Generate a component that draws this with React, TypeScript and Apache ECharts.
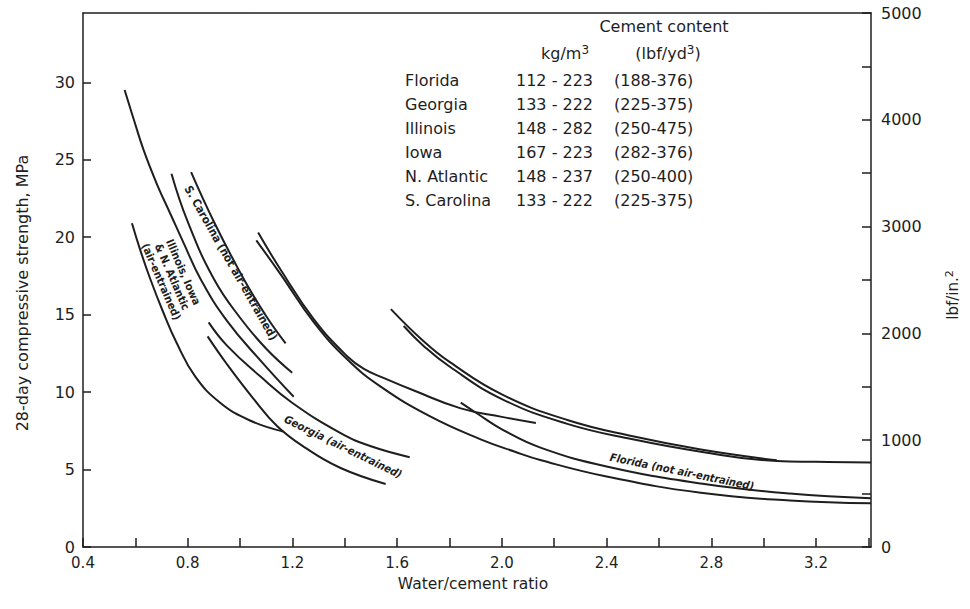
import React, { useEffect, useRef } from 'react';
import * as echarts from 'echarts';

// ---- Curve data: [water/cement ratio, 28-day compressive strength MPa] ----
const illinoisUpper = [[0.559, 29.5], [0.594, 27.6], [0.632, 25.6], [0.683, 23.4], [0.734, 21.5], [0.785, 19.6], [0.849, 17.3], [0.95, 14.6], [1.08, 12.0], [1.205, 9.7]];
const illinoisLower = [[0.587, 20.9], [0.62, 19.1], [0.657, 17.3], [0.703, 15.3], [0.757, 13.2], [0.829, 11.0], [0.925, 9.3], [1.04, 8.15], [1.166, 7.45]];
const carolinaLeft = [[0.738, 24.1], [0.8, 21.0], [0.9, 17.3], [1.0, 14.8], [1.1, 12.8], [1.199, 11.25]];
const carolinaRight = [[0.813, 24.2], [0.9, 21.0], [1.014, 17.3], [1.1, 14.9], [1.174, 13.15]];
const georgiaUpper = [[0.88, 14.5], [0.95, 13.0], [1.078, 11.0], [1.2, 9.3], [1.384, 7.35], [1.5, 6.5], [1.648, 5.8]];
const georgiaLower = [[0.876, 13.6], [0.95, 11.8], [1.05, 9.6], [1.142, 7.8], [1.25, 6.4], [1.384, 5.1], [1.556, 4.07]];
const midUpper = [[1.069, 20.3], [1.155, 17.9], [1.282, 14.7], [1.41, 12.3], [1.473, 11.5], [1.55, 10.9], [1.664, 10.1], [1.843, 8.95], [2.0, 8.4], [2.13, 8.0]];
const midLower = [[1.062, 19.8], [1.155, 17.6], [1.282, 14.5], [1.41, 12.1], [1.537, 10.35], [1.728, 8.41], [1.919, 6.95], [2.05, 6.15], [2.15, 5.6], [2.4, 4.55], [2.76, 3.5], [3.1, 3.0], [3.41, 2.82]];
const floridaCross = [[1.843, 9.32], [1.907, 8.6], [2.0, 7.6], [2.15, 6.4], [2.4, 5.2], [2.76, 4.1], [3.1, 3.45], [3.41, 3.15]];
const floridaUpper1 = [[1.576, 15.36], [1.7, 13.3], [1.8, 11.95], [2.0, 9.85], [2.25, 8.2], [2.5, 7.15], [2.76, 6.3], [3.05, 5.6]];
const floridaUpper2 = [[1.625, 14.27], [1.7, 13.0], [1.8, 11.65], [2.0, 9.55], [2.25, 7.95], [2.5, 6.95], [2.76, 6.15], [3.05, 5.55], [3.2, 5.5], [3.41, 5.45]];

const curves = [illinoisUpper, illinoisLower, carolinaLeft, carolinaRight, georgiaUpper, georgiaLower, midUpper, midLower, floridaCross, floridaUpper1, floridaUpper2];

// ---- Axis tick labels ----
const xTickLabels = ['0.4', '0.8', '1.2', '1.6', '2.0', '2.4', '2.8', '3.2'];
const yTickLabels = ['0', '5', '10', '15', '20', '25', '30'];
const psiTickLabels = ['0', '1000', '2000', '3000', '4000', '5000'];

// ---- Cement content table ----
const regions = ['Florida', 'Georgia', 'Illinois', 'Iowa', 'N. Atlantic', 'S. Carolina'];
const kgRanges = ['112 - 223', '133 - 222', '148 - 282', '167 - 223', '148 - 237', '133 - 222'];
const lbfRanges = ['(188-376)', '(225-375)', '(250-475)', '(282-376)', '(250-400)', '(225-375)'];

const X_MIN = 0.4;
const X_MAX = 3.41;
const PSI_MAX = 5000;
const MPA_MAX = PSI_MAX * 0.00689476;

const INK = '#1e1e1e';
const FONT = '"DejaVu Sans", sans-serif';
const LFONT = '"DejaVu Sans Condensed", "DejaVu Sans", sans-serif';

export default function App() {
  const ref = useRef<HTMLDivElement>(null);

  useEffect(() => {
    document.body.style.margin = '0';
    const chart = echarts.init(ref.current as HTMLDivElement, null, { renderer: 'svg' });

    const tableTexts: any[] = [];
    regions.forEach((r, i) => {
      const y = 80 + i * 24;
      tableTexts.push({ type: 'text', x: 405, y, style: { text: r, font: `16px ${FONT}`, fill: INK, align: 'left', verticalAlign: 'middle' } });
      tableTexts.push({ type: 'text', x: 516, y, style: { text: kgRanges[i], font: `16px ${FONT}`, fill: INK, align: 'left', verticalAlign: 'middle' } });
      tableTexts.push({ type: 'text', x: 614, y, style: { text: lbfRanges[i], font: `16px ${FONT}`, fill: INK, align: 'left', verticalAlign: 'middle' } });
    });

    const rich = (size: number) => ({
      a: { font: `${size}px ${FONT}`, fill: INK, lineHeight: 19 },
      s: { font: `${size - 4}px ${FONT}`, fill: INK, verticalAlign: 'top', lineHeight: 19 },
    });

    chart.setOption({
      animation: false,
      backgroundColor: '#ffffff',
      grid: { left: 83, right: 99, top: 13, bottom: 62 },
      xAxis: [
        {
          type: 'value', min: X_MIN, max: X_MAX, interval: 0.2, position: 'bottom',
          axisLine: { show: true, lineStyle: { color: INK, width: 1.5 } },
          axisTick: { show: true, inside: true, length: 9, lineStyle: { color: INK, width: 1.5 } },
          splitLine: { show: false },
          axisLabel: {
            color: INK, fontSize: 15, fontFamily: FONT, margin: 8, showMaxLabel: false,
            formatter: (v: number) => {
              const k = Math.round(v * 10);
              if (k % 4 !== 0) return '';
              return xTickLabels[(k - 4) / 4] ?? '';
            },
          },
        },
        {
          type: 'value', min: X_MIN, max: X_MAX, position: 'top',
          axisLine: { show: true, onZero: false, lineStyle: { color: INK, width: 1.5 } },
          axisTick: { show: false }, axisLabel: { show: false }, splitLine: { show: false },
        },
      ],
      yAxis: [
        {
          type: 'value', min: 0, max: MPA_MAX, interval: 5, position: 'left',
          axisLine: { show: true, lineStyle: { color: INK, width: 1.5 } },
          axisTick: { show: true, inside: true, length: 8, lineStyle: { color: INK, width: 1.5 } },
          splitLine: { show: false },
          axisLabel: {
            color: INK, fontSize: 16, fontFamily: FONT, margin: 8, showMaxLabel: false,
            formatter: (v: number) => {
              const idx = Math.round(v / 5);
              return Math.abs(v - idx * 5) < 1e-6 ? (yTickLabels[idx] ?? '') : '';
            },
          },
        },
        {
          type: 'value', min: 0, max: PSI_MAX, interval: 500, position: 'right',
          axisLine: { show: true, lineStyle: { color: INK, width: 1.5 } },
          axisTick: { show: true, inside: true, length: 9, lineStyle: { color: INK, width: 1.5 } },
          splitLine: { show: false },
          axisLabel: {
            color: INK, fontSize: 16, fontFamily: FONT, margin: 10,
            formatter: (v: number) => (v % 1000 === 0 ? (psiTickLabels[v / 1000] ?? '') : ''),
          },
        },
      ],
      series: curves.map((c) => ({
        type: 'line',
        xAxisIndex: 0,
        yAxisIndex: 0,
        data: c,
        smooth: 0.45,
        showSymbol: false,
        symbol: 'none',
        lineStyle: { color: INK, width: 2 },
        silent: true,
      })),
      graphic: [
        { type: 'text', x: 664, y: 26, style: { text: 'Cement content', font: `16px ${FONT}`, fill: INK, align: 'center', verticalAlign: 'middle' } },
        { type: 'text', x: 565, y: 53, style: { text: '{a|kg/m}{s|3}', align: 'center', verticalAlign: 'middle', rich: rich(16) } },
        { type: 'text', x: 668, y: 53, style: { text: '{a|(lbf/yd}{s|3}{a|)}', align: 'center', verticalAlign: 'middle', rich: rich(16) } },
        ...tableTexts,
        {
          type: 'text', x: 22, y: 293, rotation: Math.PI / 2,
          style: { text: '28-day compressive strength, MPa', font: `16px ${FONT}`, fill: INK, align: 'center', verticalAlign: 'middle' },
        },
        {
          type: 'text', x: 473, y: 584,
          style: { text: 'Water/cement ratio', font: `15.5px ${FONT}`, fill: INK, align: 'center', verticalAlign: 'middle' },
        },
        {
          type: 'text', x: 953, y: 295, rotation: Math.PI / 2,
          style: { text: '{a|lbf/in.}{s|2}', align: 'center', verticalAlign: 'middle', rich: rich(15) },
        },
        {
          type: 'text', x: 172, y: 277, rotation: -66.5 * Math.PI / 180,
          style: { text: 'Illinois, Iowa\n& N. Atlantic\n(air-entrained)', font: `bold 11px ${LFONT}`, fill: INK, align: 'center', verticalAlign: 'middle', lineHeight: 12 },
        },
        {
          type: 'text', x: 231, y: 263, rotation: -60.3 * Math.PI / 180,
          style: { text: 'S. Carolina (not air-entrained)', font: `bold 11.5px ${LFONT}`, fill: INK, align: 'center', verticalAlign: 'middle' },
        },
        {
          type: 'text', x: 343, y: 447, rotation: -26 * Math.PI / 180,
          style: { text: 'Georgia (air-entrained)', font: `bold italic 11px ${LFONT}`, fill: INK, align: 'center', verticalAlign: 'middle' },
        },
        {
          type: 'text', x: 682, y: 472, rotation: -11.6 * Math.PI / 180,
          style: { text: 'Florida (not air-entrained)', font: `bold italic 11px ${LFONT}`, fill: INK, align: 'center', verticalAlign: 'middle' },
        },
      ],
    });

    return () => chart.dispose();
  }, []);

  return <div ref={ref} style={{ width: 970, height: 609 }} />;
}
